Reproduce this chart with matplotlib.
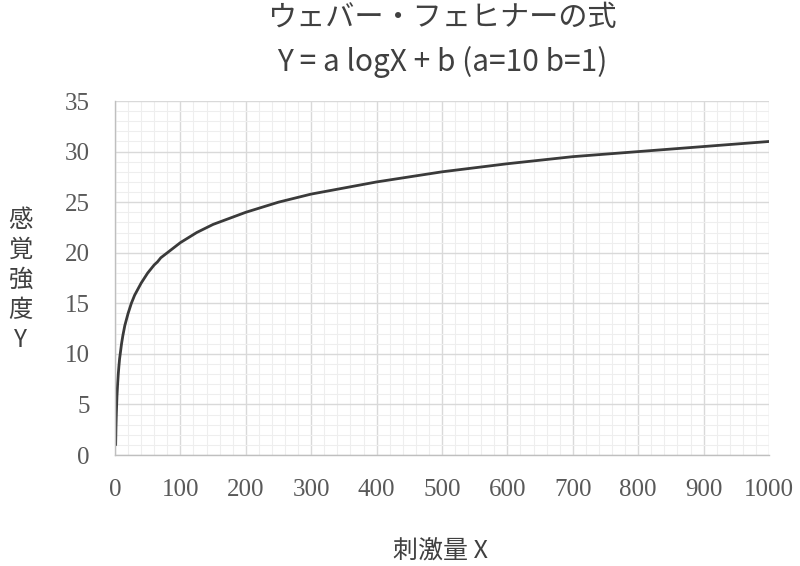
import numpy as np
from matplotlib import pyplot as plt
from matplotlib.ticker import MultipleLocator

plt.rcParams['font.family'] = ['Noto Sans CJK JP', 'DejaVu Sans']

# values (stimulus X, sensation Y)
stim_x = [1, 1.5, 2, 3, 4, 5, 6, 7, 8, 10, 12, 15, 20, 25, 30, 35, 40, 45, 50,
          55, 60, 65, 70, 80, 90, 100, 110, 125, 150, 175, 200, 250, 300, 350,
          400, 450, 500, 600, 700, 800, 900, 1000]
sens_y = [1.0, 2.8, 4.0, 5.8, 7.0, 8.0, 8.8, 9.5, 10.0, 11.0, 11.8, 12.8, 14.0,
          15.0, 15.8, 16.4, 17.0, 17.5, 18.0, 18.4, 18.8, 19.1, 19.5, 20.0,
          20.5, 21.0, 21.4, 22.0, 22.8, 23.4, 24.0, 25.0, 25.8, 26.4, 27.0,
          27.5, 28.0, 28.8, 29.5, 30.0, 30.5, 31.0]
xtick_vals = list(range(0, 1001, 100))
ytick_vals = list(range(0, 36, 5))

title1 = 'ウェバー・フェヒナーの式'
title2 = 'Y = a logX + b (a=10 b=1)'
xlab = '刺激量 X'
ylab = '感\n覚\n強\n度\nY'

fig = plt.figure(figsize=(8, 5.66), dpi=100)
ax = fig.add_axes([0.14375, 0.1961, 0.8175, 0.6254])

ax.plot(stim_x, sens_y, '-', color='#3a3a3a', lw=2.0, solid_capstyle='round')

ax.set_xlim(0, 1000)
ax.set_ylim(0, 35)
ax.set_xticks(xtick_vals)
ax.set_yticks(ytick_vals)
ax.xaxis.set_minor_locator(MultipleLocator(20))
ax.yaxis.set_minor_locator(MultipleLocator(1))
ax.grid(which='major', color='#d9d9d9', lw=1.0)
ax.grid(which='minor', color='#eeeeee', lw=0.8)
ax.set_axisbelow(True)
ax.tick_params(which='both', length=0)
ax.tick_params(axis='x', pad=17)
ax.tick_params(axis='y', pad=18)
for lbl in ax.get_xticklabels() + ax.get_yticklabels():
    lbl.set_family('Liberation Serif')
    lbl.set_fontsize(18)
    lbl.set_color('#595959')
for s in ['top', 'right']:
    ax.spines[s].set_visible(False)
for s in ['left', 'bottom']:
    ax.spines[s].set_color('#bfbfbf')
    ax.spines[s].set_linewidth(1.0)

fig.text(0.5525, 1 - 18 / 566, title1, ha='center', va='center', fontsize=21, color='#404040')
fig.text(0.5525, 1 - 62 / 566, title2, ha='center', va='center', fontsize=21.5, color='#404040')
fig.text(0.55, 1 - 552 / 566, xlab, ha='center', va='center', fontsize=18, color='#404040')
fig.text(0.026, 1 - 280 / 566, ylab, ha='center', va='center', fontsize=17.5,
         color='#404040', linespacing=1.2)

plt.savefig('out.png')
